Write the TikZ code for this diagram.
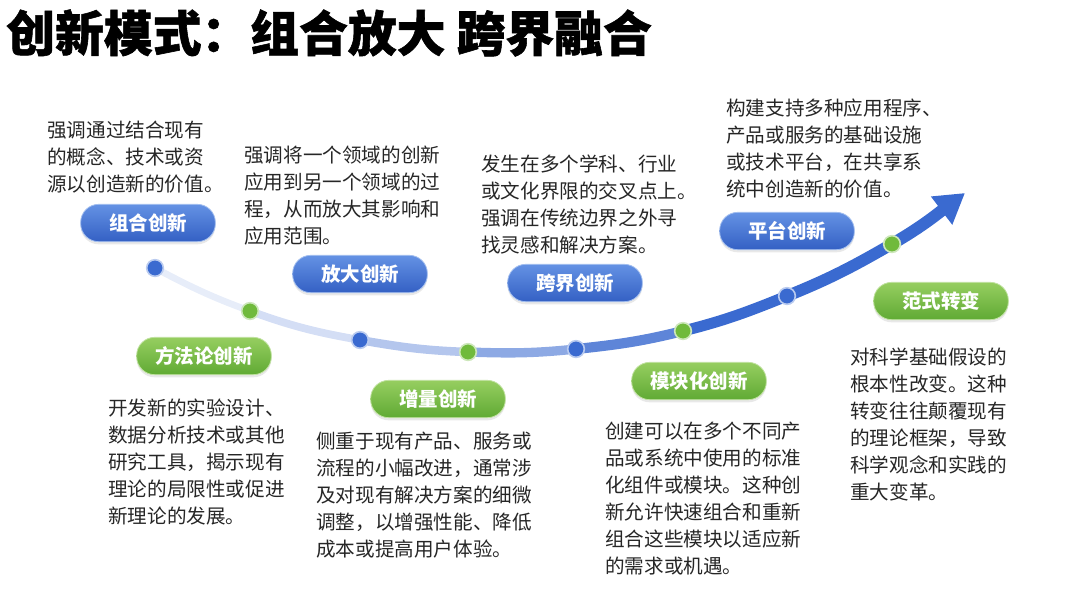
\documentclass[tikz,border=0pt]{standalone}
\usepackage{fontspec}
\setmainfont{Noto Sans CJK SC}
\newfontfamily\titlefont{Noto Sans CJK SC}[BoldFeatures={FakeBold=1.2}]
\usetikzlibrary{arrows.meta,shadows}
\pgfdeclarelayer{background}
\pgfsetlayers{background,main}
\definecolor{txt}{RGB}{38,38,38}
\definecolor{cblue}{RGB}{58,106,208}
\definecolor{pbtop}{RGB}{100,146,228}
\definecolor{pbbot}{RGB}{52,96,196}
\definecolor{pgtop}{RGB}{150,206,96}
\definecolor{pgbot}{RGB}{96,170,52}
\definecolor{dgreen}{RGB}{112,186,60}
\tikzset{
  desc/.style={anchor=north west, inner sep=0pt, align=left, text=txt,
    font=\fontsize{14.7pt}{20.2pt}\selectfont},
  pill/.style={rounded corners=13.5pt, minimum width=101pt, minimum height=28pt,
    inner sep=0pt, text=white, font=\fontsize{14.6pt}{16pt}\selectfont\bfseries,
    drop shadow={opacity=0.18, shadow xshift=0pt, shadow yshift=-2pt}},
  bluepill/.style={pill, top color=pbtop, bottom color=pbbot, draw=pbtop!60!white, line width=0.6pt},
  greenpill/.style={pill, top color=pgtop, bottom color=pgbot, draw=pgtop!60!white, line width=0.6pt},
  bdot/.style={circle, minimum size=12.5pt, inner sep=0pt, fill=cblue, draw=cblue!35!white, line width=1.2pt},
  gdot/.style={circle, minimum size=12.5pt, inner sep=0pt, fill=dgreen, draw=dgreen!35!white, line width=1.2pt},
  seg/.style={line cap=butt}
}
\begin{document}
\begin{tikzpicture}[x=0.75pt,y=-0.75pt]
\useasboundingbox (0,0) rectangle (1080,607);

% title
\node[anchor=west, inner sep=0pt, text=black, font=\titlefont\fontsize{36.6pt}{40pt}\selectfont\bfseries] (title) at (6,33) {创新模式：组合放大 跨界融合};

% dots on the curve
\node[bdot] (d1) at (155,268) {};
\node[gdot] (d2) at (250,311) {};
\node[bdot] (d3) at (360,340) {};
\node[gdot] (d4) at (468,352) {};
\node[bdot] (d5) at (576,349) {};
\node[gdot] (d6) at (683,331) {};
\node[bdot] (d7) at (787,296) {};
\node[gdot] (d8) at (892,244) {};
\coordinate (tip) at (965,193);

% the curve
\begin{pgfonlayer}{background}
\draw[seg, line width=5pt, cblue!12] (d1.center) to[out=-28,in=160] (d2.center);
\draw[seg, line width=5.8pt, cblue!22] (d2.center) to[out=-20,in=170] (d3.center);
\draw[seg, line width=6.4pt, cblue!38] (d3.center) to[out=-10,in=178] (d4.center);
\draw[seg, line width=7pt, cblue!58] (d4.center) to[out=-2,in=186] (d5.center);
\draw[seg, line width=7.6pt, cblue!82] (d5.center) to[out=6,in=194] (d6.center);
\draw[seg, line width=8.2pt, cblue] (d6.center) to[out=14,in=202] (d7.center);
\draw[seg, line width=8.8pt, cblue] (d7.center) to[out=22,in=210] (d8.center);
\draw[seg, line width=9pt, cblue, -{Triangle[length=22pt,width=25pt]}] (d8.center) to[out=30,in=217] (tip);
\end{pgfonlayer}

% pills
\node[bluepill] (p1) at (148,223) {组合创新};
\node[bluepill] (p2) at (360,274) {放大创新};
\node[bluepill] (p3) at (575,283) {跨界创新};
\node[bluepill] (p4) at (787,231) {平台创新};
\node[greenpill] (p5) at (204,356) {方法论创新};
\node[greenpill] (p6) at (438,399) {增量创新};
\node[greenpill] (p7) at (699,381) {模块化创新};
\node[greenpill] (p8) at (941,301) {范式转变};

% descriptions
\node[desc] (t1) at (47,121) {强调通过结合现有\\的概念、技术或资\\源以创造新的价值。};
\node[desc] (t2) at (244,146) {强调将一个领域的创新\\应用到另一个领域的过\\程，从而放大其影响和\\应用范围。};
\node[desc] (t3) at (481,155) {发生在多个学科、行业\\或文化界限的交叉点上。\\强调在传统边界之外寻\\找灵感和解决方案。};
\node[desc] (t4) at (726,99) {构建支持多种应用程序、\\产品或服务的基础设施\\或技术平台，在共享系\\统中创造新的价值。};
\node[desc] (t5) at (108,399) {开发新的实验设计、\\数据分析技术或其他\\研究工具，揭示现有\\理论的局限性或促进\\新理论的发展。};
\node[desc] (t6) at (316,432) {侧重于现有产品、服务或\\流程的小幅改进，通常涉\\及对现有解决方案的细微\\调整，以增强性能、降低\\成本或提高用户体验。};
\node[desc] (t7) at (605,422) {创建可以在多个不同产\\品或系统中使用的标准\\化组件或模块。这种创\\新允许快速组合和重新\\组合这些模块以适应新\\的需求或机遇。};
\node[desc] (t8) at (850,348) {对科学基础假设的\\根本性改变。这种\\转变往往颠覆现有\\的理论框架，导致\\科学观念和实践的\\重大变革。};
\end{tikzpicture}
\end{document}
